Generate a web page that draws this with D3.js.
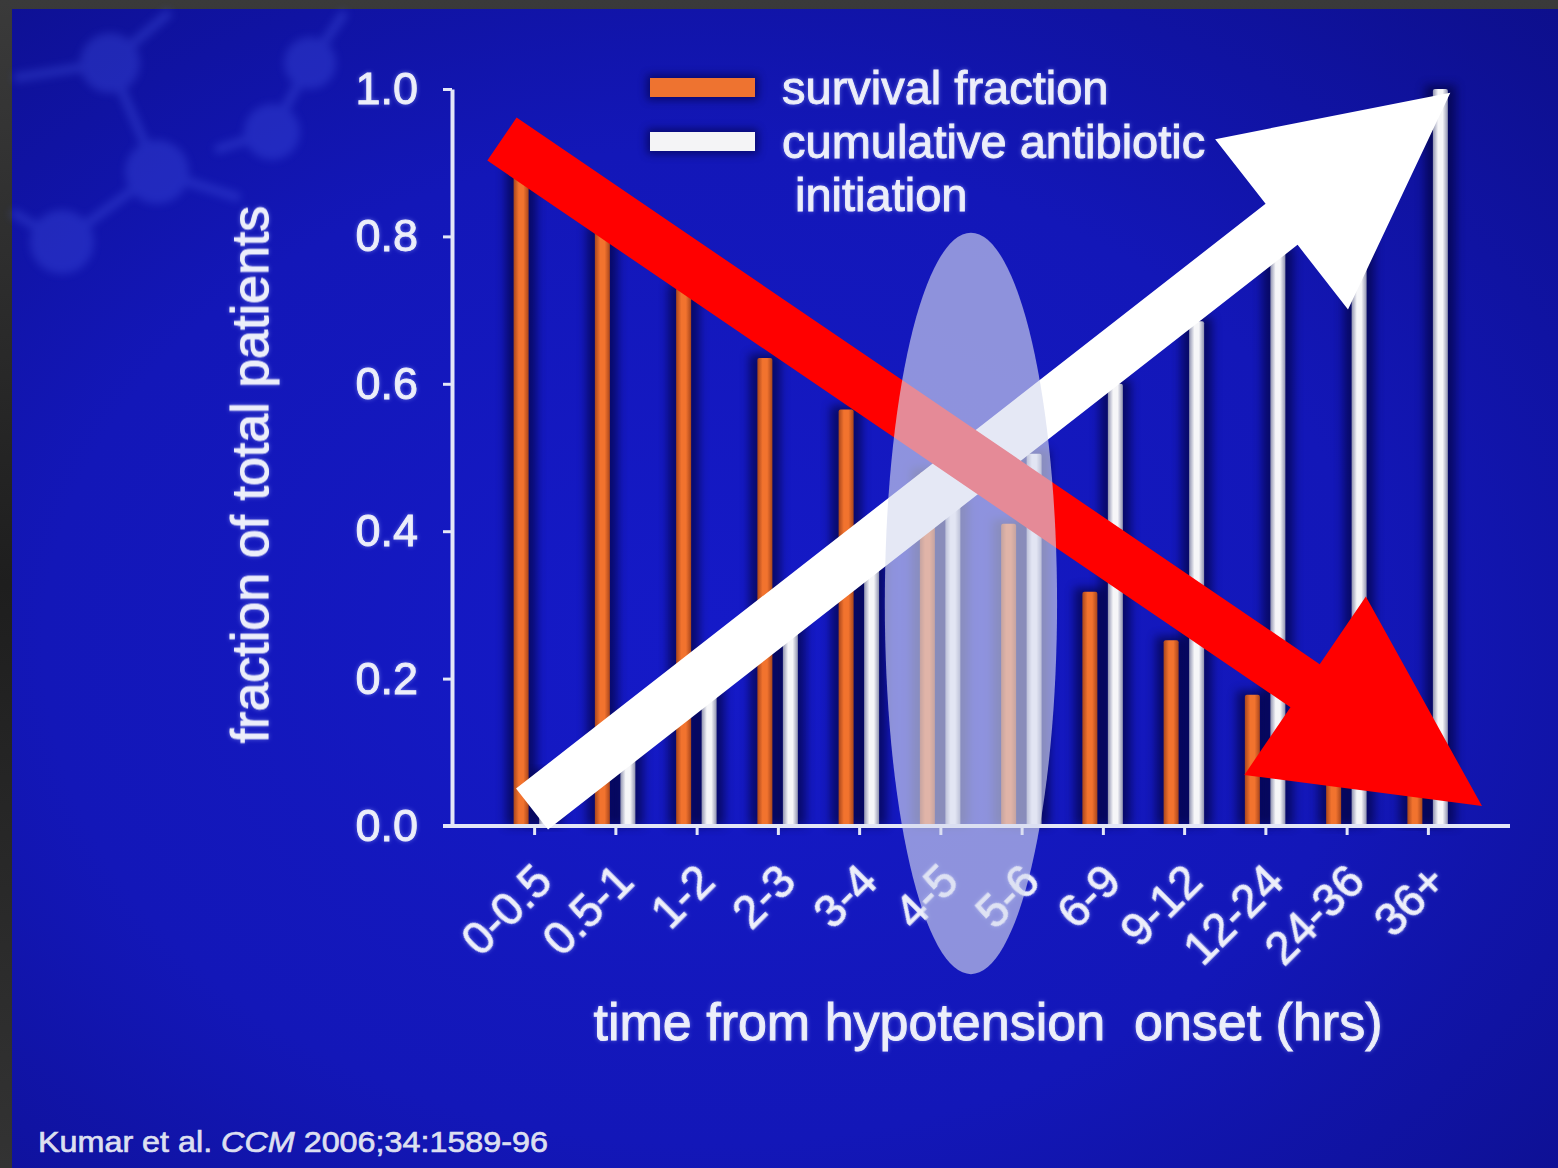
<!DOCTYPE html>
<html><head><meta charset="utf-8">
<script src="https://cdn.jsdelivr.net/npm/d3@7"></script>
<style>
html,body{margin:0;padding:0;background:#222;}
svg{display:block}
text{font-family:"Liberation Sans",Arial,Helvetica,sans-serif;}
</style>
</head><body>
<svg id="c" width="1558" height="1168"></svg>
<script>
// ---------------- data ----------------
const categories = ["0-0.5","0.5-1","1-2","2-3","3-4","4-5","5-6","6-9","9-12","12-24","24-36","36+"];
const survivalFraction = [0.89,0.81,0.73,0.635,0.565,0.48,0.41,0.318,0.252,0.178,0.10,0.05];
const cumulativeInitiation = [0.07,0.13,0.20,0.28,0.36,0.44,0.505,0.60,0.685,0.78,0.87,1.0];
const seriesKeys = ["survival","cumulative"];
const legendLines = [["survival fraction"],["cumulative antibiotic","initiation"]];
const yTicks = [0,0.2,0.4,0.6,0.8,1.0];
const yTitle = "fraction of total patients";
const xTitle = "time from hypotension  onset (hrs)";
const sourceParts = ["Kumar et al. ","CCM"," 2006;34:1589-96"];
// annotation overlays, in (category index, value) units
const redArrow = {from:[0.098,0.932], to:[12.16,0.027]};
const whiteArrow = {from:[0.468,0.023], to:[11.77,0.995]};
const highlight = {i:5.87, v:0.302, di:1.06, dv:0.503};

// ---------------- setup ----------------
const W = 1558, H = 1168;
const svg = d3.select("#c");
const defs = svg.append("defs");

const bg = defs.append("radialGradient").attr("id","bg").attr("cx","45%").attr("cy","55%").attr("r","78%");
bg.append("stop").attr("offset","0%").attr("stop-color","#151ac8");
bg.append("stop").attr("offset","55%").attr("stop-color","#1317b8");
bg.append("stop").attr("offset","100%").attr("stop-color","#0d0f8c");

const frameL = defs.append("linearGradient").attr("id","frameL").attr("x1","0").attr("y1","0").attr("x2","0").attr("y2","1");
frameL.append("stop").attr("offset","0%").attr("stop-color","#3a3a3a");
frameL.append("stop").attr("offset","50%").attr("stop-color","#1e1e1e");
frameL.append("stop").attr("offset","100%").attr("stop-color","#333");

function hGrad(id, edge, mid){
  const g = defs.append("linearGradient").attr("id",id).attr("x1","0").attr("x2","1").attr("y1","0").attr("y2","0");
  g.append("stop").attr("offset","0%").attr("stop-color",edge);
  g.append("stop").attr("offset","35%").attr("stop-color",mid);
  g.append("stop").attr("offset","65%").attr("stop-color",mid);
  g.append("stop").attr("offset","100%").attr("stop-color",edge);
}
hGrad("gOrange","#a9461c","#f2732e");
hGrad("gWhite","#8f92b0","#f6f6f8");

defs.append("filter").attr("id","blur5").attr("x","-50%").attr("y","-10%").attr("width","200%").attr("height","120%")
  .append("feGaussianBlur").attr("stdDeviation",5);
defs.append("filter").attr("id","blur3").attr("x","-50%").attr("y","-50%").attr("width","200%").attr("height","200%")
  .append("feGaussianBlur").attr("stdDeviation",4);
const glow = defs.append("filter").attr("id","glow").attr("x","-10%").attr("y","-30%").attr("width","120%").attr("height","160%");
glow.append("feGaussianBlur").attr("in","SourceAlpha").attr("stdDeviation",2.2).attr("result","b");
glow.append("feFlood").attr("flood-color","#9aa6ff").attr("flood-opacity",0.55);
glow.append("feComposite").attr("in2","b").attr("operator","in").attr("result","g");
const gm = glow.append("feMerge"); gm.append("feMergeNode").attr("in","g"); gm.append("feMergeNode").attr("in","SourceGraphic");

// background
svg.append("rect").attr("width",W).attr("height",H).attr("fill","url(#frameL)");
svg.append("rect").attr("x",12).attr("y",9).attr("width",W-12).attr("height",H-9).attr("fill","url(#bg)");

// faint molecule decoration (background art)
const mol = svg.append("g").attr("opacity",0.3).attr("filter","url(#blur3)");
const nodes = [[110,63,30],[157,172,32],[62,242,32],[272,132,28],[310,63,26]];
const links = [[110,63,157,172],[157,172,62,242],[157,172,240,198],[110,63,14,78],[110,63,170,12],[272,132,310,63],[310,63,345,12],[62,242,12,212],[272,132,215,150]];
mol.selectAll("line").data(links).join("line")
  .attr("x1",d=>d[0]).attr("y1",d=>d[1]).attr("x2",d=>d[2]).attr("y2",d=>d[3])
  .attr("stroke","#4f62ee").attr("stroke-width",9);
mol.selectAll("circle").data(nodes).join("circle")
  .attr("cx",d=>d[0]).attr("cy",d=>d[1]).attr("r",d=>d[2]).attr("fill","#4a5cec");

// ---------------- scales ----------------
const x = d3.scaleBand().domain(categories).range([494,1469]).paddingInner(0).paddingOuter(0);
const bw = x.bandwidth();
const x1 = d3.scaleBand().domain(seriesKeys).range([bw/2-21, bw/2+19.5]).paddingInner(0.412);
const xi = d3.scaleLinear().domain([0,categories.length]).range(x.range());
const y = d3.scaleLinear().domain([0,1]).range([826,89]);

const rows = categories.map((c,i)=>({cat:c, survival:survivalFraction[i], cumulative:cumulativeInitiation[i]}));
const barData = rows.flatMap(r => seriesKeys.map(k => ({cat:r.cat, key:k, value:r[k]})));

// bar shadows
svg.append("g").selectAll("rect").data(barData).join("rect")
  .attr("x",d=>x(d.cat)+x1(d.key)-8).attr("width",x1.bandwidth()+16)
  .attr("y",d=>y(d.value)-4).attr("height",d=>y(0)-y(d.value)+4)
  .attr("fill","#020330").attr("opacity",0.6).attr("filter","url(#blur5)");
// bars
svg.append("g").selectAll("rect").data(barData).join("rect")
  .attr("x",d=>x(d.cat)+x1(d.key)).attr("width",x1.bandwidth())
  .attr("y",d=>y(d.value)).attr("height",d=>y(0)-y(d.value))
  .attr("rx",2)
  .attr("fill",d=>d.key==="survival"?"url(#gOrange)":"url(#gWhite)");

// ---------------- axes ----------------
const axisColor = "#e3e6f7";
const textColor = "#eceefa";
function styleText(sel, sw){
  sel.attr("fill",textColor).attr("stroke",textColor).attr("stroke-width",sw).attr("filter","url(#glow)");
}
const gy = svg.append("g").attr("transform","translate(452,0)")
  .call(d3.axisLeft(y).tickValues(yTicks).tickFormat(d3.format(".1f")).tickSize(9).tickSizeOuter(0).tickPadding(25));
gy.select(".domain").attr("stroke",axisColor).attr("stroke-width",4);
gy.selectAll(".tick line").attr("stroke",axisColor).attr("stroke-width",3);
gy.selectAll(".tick text").attr("font-size",45).attr("font-family","Liberation Sans, Arial, sans-serif").call(styleText,0.9);

const gx = svg.append("g").attr("transform",`translate(0,${y(0)})`)
  .call(d3.axisBottom(x).tickSize(9).tickSizeOuter(0));
gx.select(".domain").remove();
gx.insert("line",":first-child").attr("x1",x.range()[0]-51).attr("x2",x.range()[1]+41)
  .attr("stroke",axisColor).attr("stroke-width",4);
gx.selectAll(".tick line").attr("stroke",axisColor).attr("stroke-width",3);
gx.selectAll(".tick text").attr("font-size",46).attr("font-family","Liberation Sans, Arial, sans-serif")
  .attr("text-anchor","end").attr("x",0).attr("y",0).attr("dy",0)
  .attr("transform","translate(20,58) rotate(-45)").call(styleText,0.8);

// axis titles
svg.append("text").attr("transform",`translate(268,${(y(0)+y(1))/2 + 17}) rotate(-90)`)
  .attr("text-anchor","middle").attr("font-size",52).call(styleText,0.9)
  .text(yTitle);
svg.append("text").attr("x",988).attr("y",1040).attr("text-anchor","middle")
  .attr("font-size",52).style("white-space","pre").call(styleText,0.9)
  .text(xTitle);

// ---------------- legend ----------------
const legend = svg.append("g").attr("transform","translate(650,78)");
const legItems = legend.selectAll("g").data(seriesKeys).join("g")
  .attr("transform",(d,i)=>`translate(0,${i*54})`);
legItems.append("rect").attr("x",-3).attr("y",-3).attr("width",111).attr("height",25).attr("fill","#05063a").attr("opacity",0.6).attr("filter","url(#blur3)");
legItems.append("rect").attr("width",105).attr("height",19)
  .attr("fill",d=>d==="survival"?"#ee7330":"#f4f4f6");
legItems.each(function(d,i){
  const g = d3.select(this);
  legendLines[i].forEach((line,j)=>{
    g.append("text").attr("x", 132 + (j>0?13:0)).attr("y", 26 + j*53)
      .attr("font-size",47).call(styleText,0.9).text(line);
  });
});

// ---------------- source ----------------
const src = svg.append("text").attr("x",38).attr("y",1152).attr("font-size",30)
  .attr("fill","#dcdff0").attr("stroke","#dcdff0").attr("stroke-width",0.7)
  .attr("textLength",510).attr("lengthAdjust","spacingAndGlyphs").style("white-space","pre");
sourceParts.forEach((p,i)=>src.append("tspan").attr("font-style",i===1?"italic":"normal").text(p));

// ---------------- overlays ----------------
function arrowPoints(a){
  const p0=[xi(a.from[0]), y(a.from[1])], p1=[xi(a.to[0]), y(a.to[1])];
  const dx=p1[0]-p0[0], dy=p1[1]-p0[1], L=Math.hypot(dx,dy);
  const u=[dx/L,dy/L], n=[-u[1],u[0]];
  const sw=26, hw=108, hl=214;
  const b=[p1[0]-u[0]*hl, p1[1]-u[1]*hl];
  const P=(p,k)=>[p[0]+n[0]*k, p[1]+n[1]*k];
  return [P(p0,sw),P(b,sw),P(b,hw),p1,P(b,-hw),P(b,-sw),P(p0,-sw)];
}
svg.append("polygon").attr("points",arrowPoints(whiteArrow).map(p=>p.join(",")).join(" ")).attr("fill","#ffffff");
svg.append("polygon").attr("points",arrowPoints(redArrow).map(p=>p.join(",")).join(" ")).attr("fill","#ff0000");

svg.append("ellipse")
  .attr("cx",xi(highlight.i)).attr("cy",y(highlight.v))
  .attr("rx",xi(highlight.i+highlight.di)-xi(highlight.i))
  .attr("ry",y(highlight.v)-y(highlight.v+highlight.dv))
  .attr("fill","rgb(214,218,239)").attr("opacity",0.63);
</script>
</body></html>
